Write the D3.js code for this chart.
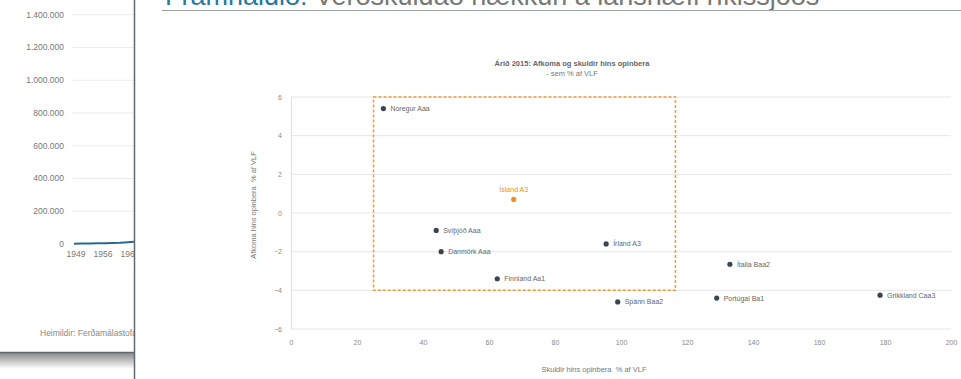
<!DOCTYPE html>
<html><head><meta charset="utf-8">
<script src="https://cdn.jsdelivr.net/npm/d3@7"></script>
<style>
html,body{margin:0;padding:0;background:#fff;}
svg{display:block;font-family:"Liberation Sans",Arial,Helvetica,sans-serif;}
</style></head>
<body>
<svg id="c" width="961" height="379"></svg>
<script>
// ---- scatter data ----
const countries = ["Noregur Aaa","Ísland A3","Svíþjóð Aaa","Danmörk Aaa","Írland A3","Finnland Aa1","Spánn Baa2","Ítalia Baa2","Portúgal Ba1","Grikkland Caa3"];
const debt      = [28, 67.5, 44, 45.5, 95.5, 62.5, 99, 133, 129, 178.5];
const balance   = [5.4, 0.7, -0.9, -2.0, -1.6, -3.4, -4.6, -2.65, -4.4, -4.25];
const highlight = ["Ísland A3"];
const xTicks = [0,20,40,60,80,100,120,140,160,180,200];
const yTicks = [-6,-4,-2,0,2,4,6];
const boxX = [25, 116.5];
const boxY = [-4, 6];

// ---- background (left) chart data ----
const bgYTicks = [0,200000,400000,600000,800000,1000000,1200000,1400000];
const bgYears = [1949,1956,1963];
const bgLineYears = [1949,1951,1953,1955,1957,1959,1961,1963,1965];
const bgLineVals = [2000,2500,3000,4000,5000,6500,8000,11000,15000];

const svg = d3.select("#c");
const fmtDot = d => d3.format(",")(d).replace(/,/g,".");

// ---------- left background panel ----------
const left = svg.append("g");
const clip = svg.append("defs").append("clipPath").attr("id","lc");
clip.append("rect").attr("x",0).attr("y",0).attr("width",134).attr("height",352);
const ly = d3.scaleLinear().domain([0,1400000]).range([244,14.7]);
const lx = d3.scaleLinear().domain([1949,1963]).range([76,130]);
const lg = left.append("g").attr("clip-path","url(#lc)");
lg.selectAll("line.g").data(bgYTicks.filter(d=>d>0)).join("line")
  .attr("x1",72).attr("x2",134).attr("y1",d=>ly(d)).attr("y2",d=>ly(d))
  .attr("stroke","#ececec").attr("stroke-width",1);
lg.selectAll("text.yl").data(bgYTicks).join("text")
  .attr("x",64).attr("y",d=>ly(d)+3).attr("text-anchor","end")
  .attr("font-size",8.5).attr("fill","#777").text(fmtDot);
lg.selectAll("text.xl").data(bgYears).join("text")
  .attr("x",d=>lx(d)).attr("y",257).attr("text-anchor","middle")
  .attr("font-size",8.5).attr("fill","#777").text(d=>d);
lg.append("path").datum(bgLineYears.map((y,i)=>[y,bgLineVals[i]]))
  .attr("d",d3.line().x(d=>lx(d[0])-2).y(d=>ly(d[1])))
  .attr("fill","none").attr("stroke","#2a6a90").attr("stroke-width",2);
lg.append("text").attr("x",40).attr("y",336).attr("font-size",8.5).attr("fill","#888")
  .text("Heimildir: Ferðamálastofa");
// bottom border with shadow
const grad = svg.select("defs").append("linearGradient").attr("id","sh").attr("x1",0).attr("y1",0).attr("x2",0).attr("y2",1);
grad.append("stop").attr("offset","0%").attr("stop-color","#8a8a8a");
grad.append("stop").attr("offset","100%").attr("stop-color","#ffffff");
left.append("rect").attr("x",0).attr("y",353).attr("width",134).attr("height",16).attr("fill","url(#sh)");
left.append("line").attr("x1",0).attr("x2",134).attr("y1",352.5).attr("y2",352.5).attr("stroke","#5f6770").attr("stroke-width",1.5);
left.append("line").attr("x1",134.5).attr("x2",134.5).attr("y1",0).attr("y2",379).attr("stroke","#5f6770").attr("stroke-width",1.5);

// ---------- slide title (cut at top) ----------
const t = svg.append("text").attr("x",165).attr("y",5).attr("font-size",27).attr("font-family","'Liberation Sans Narrow','Liberation Sans',Arial,sans-serif");
t.append("tspan").attr("fill","#1f7aa0").text("Framhaldið: ");
t.append("tspan").attr("fill","#777").text("Verðskuldað hækkun á lánshæfi ríkissjóðs");
svg.append("line").attr("x1",162).attr("x2",961).attr("y1",10.5).attr("y2",10.5).attr("stroke","#9aa3aa").attr("stroke-width",1);

// ---------- scatter ----------
const x = d3.scaleLinear().domain([0,200]).range([291,951]);
const y = d3.scaleLinear().domain([-6,6]).range([329,97]);
const g = svg.append("g");

g.selectAll("line.hg").data(yTicks).join("line")
  .attr("x1",x(0)).attr("x2",x(200)).attr("y1",d=>y(d)).attr("y2",d=>y(d))
  .attr("stroke","#e6e6e6").attr("stroke-width",1);
g.append("line").attr("x1",x(0)+0.5).attr("x2",x(0)+0.5).attr("y1",y(6)).attr("y2",y(-6))
  .attr("stroke","#e0e0e0");

const xa = g.append("g").attr("transform",`translate(0,${y(-6)+11})`)
  .call(d3.axisBottom(x).tickValues(xTicks).tickSize(0).tickPadding(0));
xa.select(".domain").remove();
xa.selectAll("text").attr("font-size",7).attr("fill","#888").attr("font-family","'Liberation Sans',Arial,sans-serif");

const ya = g.append("g").attr("transform",`translate(${x(0)-9},0)`)
  .call(d3.axisLeft(y).tickValues(yTicks).tickSize(0).tickPadding(0));
ya.select(".domain").remove();
ya.selectAll("text").attr("font-size",7).attr("fill","#888").attr("font-family","'Liberation Sans',Arial,sans-serif");

// highlight box
g.append("rect").attr("x",x(boxX[0])).attr("y",y(boxY[1]))
  .attr("width",x(boxX[1])-x(boxX[0])).attr("height",y(boxY[0])-y(boxY[1]))
  .attr("fill","none").attr("stroke","#f29a36").attr("stroke-width",1.5).attr("stroke-dasharray","3,2");

const pts = countries.map((c,i)=>({c, x:debt[i], y:balance[i], h:highlight.includes(c)}));
g.selectAll("circle.p").data(pts).join("circle")
  .attr("cx",d=>x(d.x)).attr("cy",d=>y(d.y)).attr("r",2.6)
  .attr("fill",d=>d.h?"#f28c1e":"#3b4452");
g.selectAll("text.pl").data(pts).join("text")
  .attr("x",d=>d.h?x(d.x):x(d.x)+7)
  .attr("y",d=>d.h?y(d.y)-7:y(d.y)+2.5)
  .attr("text-anchor",d=>d.h?"middle":"start")
  .attr("font-size",7).attr("fill",d=>d.h?"#f28c1e":"#666").text(d=>d.c);

// titles
g.append("text").attr("x",572).attr("y",66).attr("text-anchor","middle")
  .attr("font-size",7.5).attr("font-weight","bold").attr("fill","#666")
  .text("Árið 2015: Afkoma og skuldir hins opinbera");
g.append("text").attr("x",572).attr("y",76).attr("text-anchor","middle")
  .attr("font-size",7.5).attr("fill","#777").text("- sem % af VLF");
g.append("text").attr("transform","translate(256,205) rotate(-90)").attr("text-anchor","middle")
  .attr("font-size",7.5).attr("fill","#777").attr("xml:space","preserve")
  .text("Afkoma hins opinbera  % af VLF");
g.append("text").attr("x",594).attr("y",372).attr("text-anchor","middle")
  .attr("font-size",7.5).attr("fill","#777").attr("xml:space","preserve")
  .text("Skuldir hins opinbera  % af VLF");
</script>
</body></html>
